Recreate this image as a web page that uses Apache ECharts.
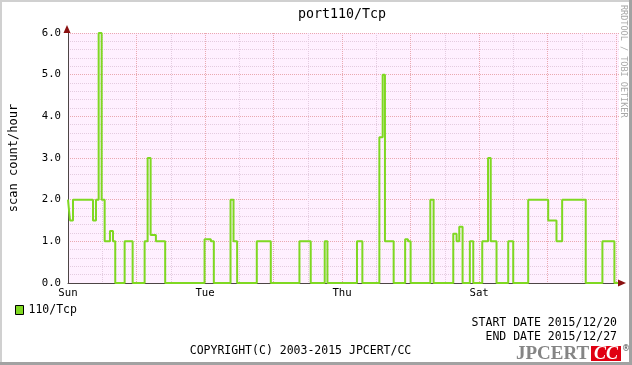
<!DOCTYPE html>
<html><head><meta charset="utf-8">
<script src="https://cdn.jsdelivr.net/npm/echarts@6/dist/echarts.min.js"></script>
<style>html,body{margin:0;padding:0;background:#fff}#c{width:632px;height:365px}</style>
</head><body><div id="c"></div>
<script>
// ---- data (hours since Sun 2015/12/20 00:00) ----
const chartTitle = 'port110/Tcp';
const seriesName = '110/Tcp';
const yAxisName = 'scan count/hour';
const stepHours = [0, 0.70, 1.75, 8.75, 9.80, 10.74, 11.79, 12.84, 14.70, 15.75,
  16.55, 19.84, 22.64, 26.84, 27.89, 28.94, 30.79, 34.04, 47.83, 50.03,
  51.08, 56.93, 57.98, 59.24, 66.13, 71.03, 81.07, 85.02, 89.92, 90.87,
  101.22, 103.11, 109.06, 110.22, 111.02, 114.07, 118.09, 119.07, 120.01, 126.91,
  128.06, 134.95, 136.11, 137.05, 138.21, 140.76, 141.95, 145.10, 147.13, 148.07,
  150.10, 154.20, 155.95, 161.20, 168.20, 171.10, 173.09, 181.35, 187.19, 191.39];
const stepValues = [2.0, 1.5, 2.0, 1.5, 2.0, 6.0, 2.0, 1.0, 1.25, 1.0,
  0, 1.0, 0, 1.0, 3.0, 1.15, 1.0, 0, 1.05, 1.0,
  0, 2.0, 1.0, 0, 1.0, 0, 1.0, 0, 1.0, 0,
  1.0, 0, 3.5, 5.0, 1.0, 0, 1.05, 1.0, 0, 2.0,
  0, 1.18, 1.0, 1.35, 0, 1.0, 0, 1.0, 3.0, 1.0,
  0, 1.0, 0, 2.0, 1.5, 1.0, 2.0, 0, 1.0, 0];
const endHour = 193;
const tickHours = [0, 48, 96, 144];
const tickNames = ['Sun', 'Tue', 'Thu', 'Sat'];
const startText = 'START DATE 2015/12/20';
const endText = 'END DATE 2015/12/27';
const copyText = 'COPYRIGHT(C) 2003-2015 JPCERT/CC';
const sideText = 'RRDTOOL / TOBI OETIKER';

// ---- styles ----
const lineColor = '#7fd822';
const majorGrid = '#eaa9b1';
const minorGrid = '#e4cce0';
const axisColor = '#4d4545';
const arrowColor = '#8b1010';
const mono = '"DejaVu Sans Mono", monospace';

const seriesData = stepHours.map((h, i) => [h, stepValues[i]]);
seriesData.push([endHour, stepValues[stepValues.length - 1]]);

const chart = echarts.init(document.getElementById('c'), null, {renderer: 'canvas'});
const option = {
  animation: false,
  backgroundColor: '#ffffff',
  title: {
    text: chartTitle, left: 298, top: 8, padding: 0,
    textStyle: {fontFamily: mono, fontSize: 13.3, fontWeight: 'normal', color: '#000'}
  },
  legend: {
    data: [seriesName], left: 15, top: 304, padding: 0, icon: 'rect',
    itemWidth: 8, itemHeight: 9, itemGap: 5,
    textStyle: {fontFamily: mono, fontSize: 11.5, color: '#000'},
    itemStyle: {color: lineColor, borderColor: '#000', borderWidth: 1}
  },
  grid: {left: 67, top: 33, width: 552, height: 250, show: true, backgroundColor: '#fff0ff', borderWidth: 0},
  xAxis: {
    type: 'value', min: 0, max: endHour, interval: 12,
    axisLine: {show: true, onZero: false, lineStyle: {color: axisColor, width: 1}},
    axisTick: {show: false},
    axisLabel: {
      formatter: v => { const i = tickHours.indexOf(v); return i >= 0 ? tickNames[i] : ''; },
      margin: 5, fontFamily: mono, fontSize: 10.7, color: '#000', showMaxLabel: false
    },
    splitLine: {show: true, showMaxLine: false, lineStyle: {color: [majorGrid, minorGrid], type: [1, 1], width: 1}}
  },
  yAxis: {
    type: 'value', min: 0, max: 6, interval: 1,
    name: yAxisName, nameLocation: 'middle', nameGap: 48,
    nameTextStyle: {fontFamily: mono, fontSize: 12, color: '#000'},
    axisLine: {show: true, lineStyle: {color: axisColor, width: 1}},
    axisTick: {show: false},
    axisLabel: {formatter: v => v.toFixed(1), margin: 7, fontFamily: mono, fontSize: 10.7, color: '#000'},
    splitLine: {show: true, lineStyle: {color: majorGrid, type: [1, 1], width: 1}},
    minorTick: {show: false, splitNumber: 5},
    minorSplitLine: {show: true, lineStyle: {color: minorGrid, type: [1, 1], width: 1}}
  },
  series: [{
    name: seriesName, type: 'line', step: 'end', data: seriesData, symbol: 'none', clip: false,
    lineStyle: {color: lineColor, width: 2}, itemStyle: {color: lineColor}, z: 5
  }],
  graphic: [
    {type: 'rect', shape: {x: 0, y: 0, width: 632, height: 2}, style: {fill: '#d0d0d0'}, z: 100},
    {type: 'rect', shape: {x: 0, y: 0, width: 2, height: 365}, style: {fill: '#d0d0d0'}, z: 100},
    {type: 'rect', shape: {x: 629, y: 0, width: 3, height: 365}, style: {fill: '#a2a2a2'}, z: 100},
    {type: 'rect', shape: {x: 0, y: 362, width: 632, height: 3}, style: {fill: '#a2a2a2'}, z: 100},
    {type: 'polygon', shape: {points: [[67, 25], [63.5, 33], [70.5, 33]]}, style: {fill: arrowColor}, z: 50},
    {type: 'polygon', shape: {points: [[626, 283], [618, 279.5], [618, 286.5]]}, style: {fill: arrowColor}, z: 50},
    {type: 'text', x: 617, y: 323, style: {text: startText, font: '11.5px ' + mono, fill: '#000', align: 'right', textAlign: 'right', verticalAlign: 'middle', textVerticalAlign: 'middle'}, z: 50},
    {type: 'text', x: 617, y: 337.5, style: {text: endText, font: '11.5px ' + mono, fill: '#000', align: 'right', textAlign: 'right', verticalAlign: 'middle', textVerticalAlign: 'middle'}, z: 50},
    {type: 'text', x: 300.5, y: 351.5, style: {text: copyText, font: '11.5px ' + mono, fill: '#000', align: 'center', textAlign: 'center', verticalAlign: 'middle', textVerticalAlign: 'middle'}, z: 50},
    {type: 'text', x: 623, y: 5, rotation: -Math.PI / 2, style: {text: sideText, font: '8.5px ' + mono, fill: '#a8a8a8', align: 'left', textAlign: 'left', verticalAlign: 'middle', textVerticalAlign: 'middle'}, z: 50},
    {type: 'text', x: 516, y: 354, style: {text: 'JPCERT', font: 'bold 19px "Liberation Serif", serif', fill: '#858585', align: 'left', textAlign: 'left', verticalAlign: 'middle', textVerticalAlign: 'middle'}, z: 50},
    {type: 'rect', shape: {x: 591, y: 346, width: 30, height: 15}, style: {fill: '#e00012'}, z: 50},
    {type: 'text', x: 606, y: 354, style: {text: 'CC', font: 'bold italic 18px "Liberation Serif", serif', fill: '#ffffff', align: 'center', textAlign: 'center', verticalAlign: 'middle', textVerticalAlign: 'middle'}, z: 51},
    {type: 'text', x: 626, y: 349, style: {text: '®', font: '8px "DejaVu Sans", sans-serif', fill: '#444', align: 'center', textAlign: 'center', verticalAlign: 'middle', textVerticalAlign: 'middle'}, z: 51}
  ]
};
chart.setOption(option);
</script>
</body></html>
